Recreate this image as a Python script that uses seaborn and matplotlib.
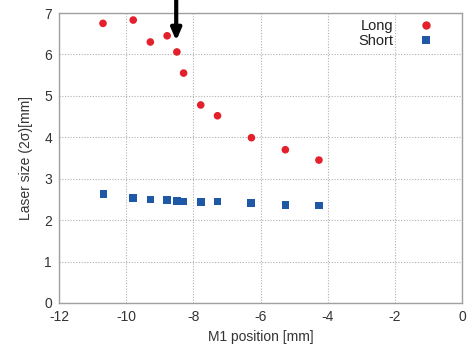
import matplotlib
matplotlib.use("Agg")
import matplotlib.pyplot as plt
import seaborn as sns
import pandas as pd

# Data
pos_long = [-10.69, -9.79, -9.28, -8.78, -8.49, -8.29, -7.78, -7.28, -6.27, -5.26, -4.26]
size_long = [6.75, 6.83, 6.30, 6.45, 6.06, 5.55, 4.78, 4.52, 3.99, 3.70, 3.45]
pos_short = [-10.68, -9.79, -9.28, -8.78, -8.49, -8.29, -7.77, -7.28, -6.28, -5.26, -4.26]
size_short = [2.63, 2.54, 2.50, 2.49, 2.46, 2.45, 2.44, 2.45, 2.42, 2.37, 2.35]
x_ticks = [-12, -10, -8, -6, -4, -2, 0]
y_ticks = [0, 1, 2, 3, 4, 5, 6, 7]
arrow_x = -8.51
arrow_tip = 6.33
arrow_tail = 7.4

df = pd.concat([
    pd.DataFrame({"pos": pos_long, "size": size_long, "series": "Long"}),
    pd.DataFrame({"pos": pos_short, "size": size_short, "series": "Short"}),
], ignore_index=True)

sns.set_style("white")
plt.rcParams['font.family'] = ['Liberation Sans', 'DejaVu Sans']

fig = plt.figure(figsize=(4.67, 3.48), dpi=100)
ax = fig.add_axes([59/467, 1 - 303/348, (462 - 59)/467, (303 - 13)/348])

sns.scatterplot(data=df, x="pos", y="size", hue="series", style="series",
                palette={"Long": "#e3202b", "Short": "#1f58a6"},
                markers={"Long": "o", "Short": "s"}, s=30, linewidth=0,
                ax=ax, legend=True)

ax.set_xlim(-12, 0)
ax.set_ylim(0, 7)
ax.set_xticks(x_ticks)
ax.set_yticks(y_ticks)
ax.set_xticklabels([str(t) for t in x_ticks])
ax.grid(True, color="#b0b0b0", linestyle=(0, (1, 1.5)), linewidth=0.8)
for sp in ax.spines.values():
    sp.set_color("#a0a0a0")
    sp.set_linewidth(1.0)
ax.tick_params(axis="both", labelsize=10, colors="#333333", length=0, pad=5)
ax.set_xlabel("M1 position [mm]", fontsize=10, color="#333333", labelpad=4)
ax.set_ylabel("Laser size (2σ)[mm]", fontsize=10, color="#333333", labelpad=8)

leg = ax.legend(loc="upper right", markerfirst=False, frameon=False, fontsize=10.5,
                handletextpad=1.2, labelspacing=0.08, borderaxespad=0.4,
                markerscale=1.1, bbox_to_anchor=(0.975, 1.02))
for t in leg.get_texts():
    t.set_ha("right")
    t.set_color("#222222")

ax.annotate("", xy=(arrow_x, arrow_tip), xytext=(arrow_x, arrow_tail),
            arrowprops=dict(arrowstyle="-|>,head_length=0.7,head_width=0.3",
                            color="black", lw=3, shrinkA=0, shrinkB=0),
            annotation_clip=False)

fig.savefig("out.png", dpi=100)
